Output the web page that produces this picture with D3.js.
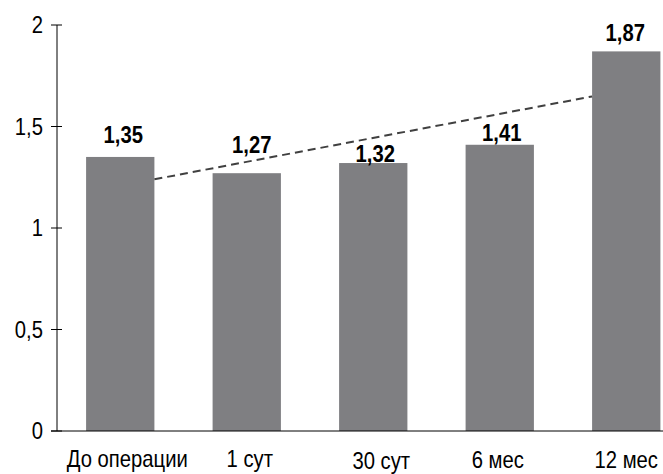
<!DOCTYPE html>
<html>
<head>
<meta charset="utf-8">
<script src="https://cdn.jsdelivr.net/npm/d3@7"></script>
<style>
  html, body { margin: 0; padding: 0; background: #fff; }
  svg { display: block; }
  text { font-family: "Liberation Sans", Arial, sans-serif; fill: #000; }
</style>
</head>
<body>
<svg id="chart" width="663" height="474"></svg>
<script>
// Measurement periods and mean values
const categories = ["До операции", "1 сут", "30 сут", "6 мес", "12 мес"];
const values = [1.35, 1.27, 1.32, 1.41, 1.87];
const yTicks = [0, 0.5, 1, 1.5, 2];

const fmt = v => String(v).replace(".", ",");

const svg = d3.select("#chart");
const W = 663, H = 474;
const axisX = 57, axisTop = 25, axisBottom = 431;
const fontSize = 23;
const squeeze = 0.88; // condensed lettering
const place = (px, py) => `translate(${px},${py}) scale(${squeeze},1)`;

const x = d3.scaleBand()
  .domain(categories)
  .range([axisX, axisX + 126.5 * categories.length])
  .paddingInner(0.46)
  .paddingOuter(0.23);

const y = d3.scaleLinear().domain([0, 2]).range([axisBottom, axisTop]);

// Bars
svg.append("g").selectAll("rect")
  .data(values)
  .join("rect")
  .attr("x", (d, i) => x(categories[i]))
  .attr("y", d => y(d))
  .attr("width", x.bandwidth())
  .attr("height", d => y(0) - y(d))
  .attr("fill", "#7f7f82");

// Linear trend over the five periods (least squares), drawn between the
// right edge of the first bar and the left edge of the last bar
const n = values.length;
const idx = d3.range(1, n + 1);
const mx = d3.mean(idx), my = d3.mean(values);
const slope = d3.sum(idx, (k, i) => (k - mx) * (values[i] - my)) / d3.sum(idx, k => (k - mx) ** 2);
const step = x.step();
const center = i => x(categories[i]) + x.bandwidth() / 2;
const trendAt = px => {
  const k = 1 + (px - center(0)) / step;
  return my + slope * (k - mx);
};
const tx0 = x(categories[0]) + x.bandwidth();
const tx1 = x(categories[n - 1]);
svg.append("line")
  .attr("x1", tx0).attr("y1", y(trendAt(tx0)))
  .attr("x2", tx1).attr("y2", y(trendAt(tx1)))
  .attr("stroke", "#404040")
  .attr("stroke-width", 2)
  .attr("stroke-dasharray", "8,5");

// Y axis with crossing tick marks
const yAxis = svg.append("g");
yAxis.append("line")
  .attr("x1", axisX).attr("x2", axisX)
  .attr("y1", y(2)).attr("y2", y(0))
  .attr("stroke", "#000").attr("stroke-width", 1);
yAxis.selectAll("line.tick")
  .data(yTicks)
  .join("line")
  .attr("class", "tick")
  .attr("x1", axisX - 6).attr("x2", axisX + 5)
  .attr("y1", d => y(d)).attr("y2", d => y(d))
  .attr("stroke", "#000").attr("stroke-width", 1);
yAxis.selectAll("text")
  .data(yTicks)
  .join("text")
  .attr("transform", d => place(43, y(d)))
  .attr("dy", "0.36em")
  .attr("text-anchor", "end")
  .style("font-size", fontSize + "px")
  .text(d => fmt(d));

// X axis baseline
svg.append("line")
  .attr("x1", axisX - 6).attr("x2", W)
  .attr("y1", y(0)).attr("y2", y(0))
  .attr("stroke", "#000").attr("stroke-width", 1);

// Category labels
const catShift = [7, 3, 8, -2, 0];
const catDrop = [0, 0, 2, 1, 1];
svg.append("g").selectAll("text")
  .data(categories)
  .join("text")
  .attr("transform", (d, i) => place(center(i) + catShift[i], 467 + catDrop[i]))
  .attr("text-anchor", "middle")
  .style("font-size", fontSize + "px")
  .text(d => d);

// Value labels above the bars
const valShift = [3, 5, 2, 2, -1];
const valLift = [14, 20, 1, 4, 10];
svg.append("g").selectAll("text")
  .data(values)
  .join("text")
  .attr("transform", (d, i) => place(center(i) + valShift[i], y(d) - valLift[i]))
  .attr("text-anchor", "middle")
  .style("font-size", fontSize + "px")
  .style("font-weight", "bold")
  .text(d => fmt(d));
</script>
</body>
</html>
